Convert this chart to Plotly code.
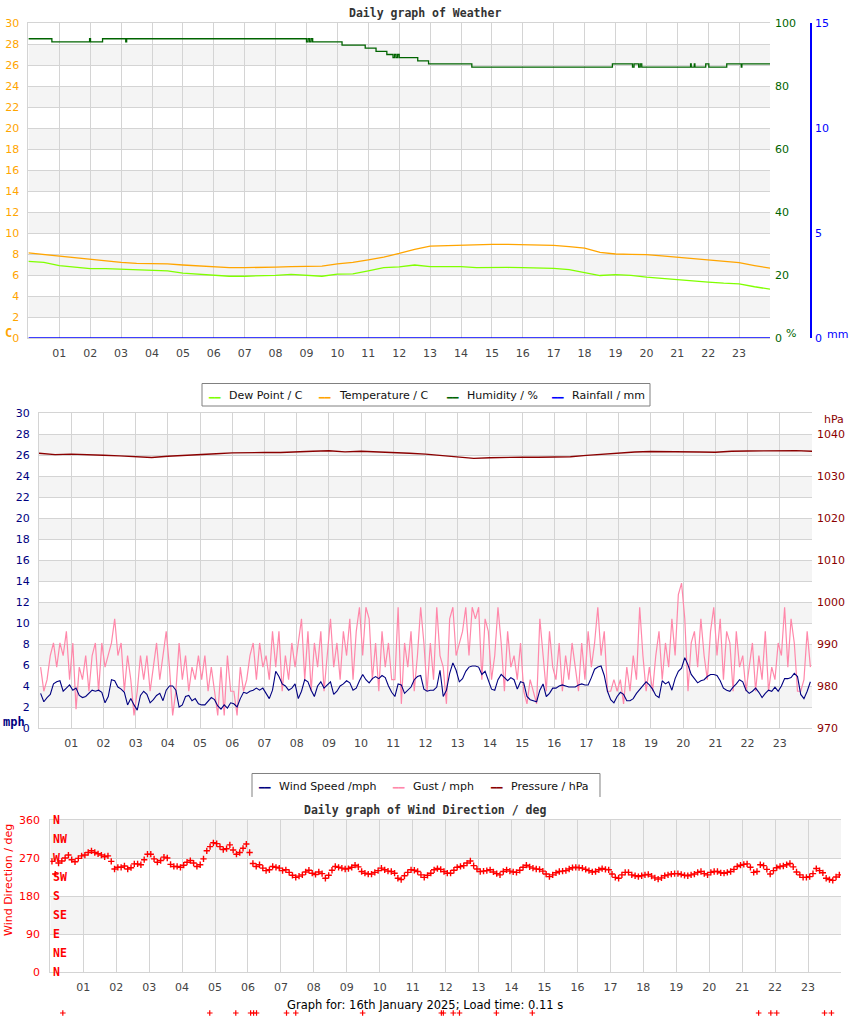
import plotly.graph_objects as go

W, H = 850, 1017
FONT = "DejaVu Sans"
MONO = "DejaVu Sans Mono"

# ---- panel 1: weather (half-hourly readings, hours after midnight) ----
HALF_HOURS = [i * 0.5 for i in range(49)]
TEMPERATURE = [8.1, 7.95, 7.75, 7.6, 7.45, 7.3, 7.2, 7.1, 7.1, 7.05,
               6.95, 6.85, 6.75, 6.7, 6.7, 6.7, 6.75, 6.8, 6.8, 6.85,
               7.05, 7.2, 7.45, 7.7, 8.05, 8.45, 8.75, 8.8, 8.85, 8.88,
               8.92, 8.92, 8.9, 8.85, 8.83, 8.7, 8.55, 8.15, 8.0, 7.97,
               7.94, 7.83, 7.7, 7.6, 7.47, 7.3, 7.18, 6.9, 6.65]
DEW_POINT = [7.3, 7.2, 6.9, 6.75, 6.6, 6.6, 6.55, 6.48, 6.45, 6.4,
             6.18, 6.08, 5.97, 5.88, 5.88, 5.9, 5.97, 6.05, 6.0, 5.88,
             6.08, 6.1, 6.4, 6.7, 6.78, 6.95, 6.8, 6.83, 6.8, 6.7,
             6.73, 6.72, 6.7, 6.68, 6.63, 6.52, 6.2, 5.95, 6.03, 5.97,
             5.8, 5.7, 5.53, 5.49, 5.33, 5.22, 5.15, 4.88, 4.65]
HUMIDITY_TIMES = [0.0, 0.76, 1.98, 2.01, 2.4, 3.15, 3.18, 9.0, 9.05, 9.1,
                  9.15, 9.2, 10.15, 10.9, 11.25, 11.6, 11.8, 11.85, 11.9, 11.95,
                  12.0, 12.6, 12.95, 14.35, 18.9, 19.55, 19.6, 19.75, 19.8, 19.85,
                  21.43, 21.45, 21.55, 21.57, 21.92, 22.02, 22.6, 23.07, 23.09, 24.0]
HUMIDITY = [95, 94, 95, 94, 95, 94, 95, 94, 95, 94,
            95, 94, 93, 92, 91, 90, 89, 90, 89, 90,
            89, 88, 87, 86, 87, 86, 87, 86, 87, 86,
            87, 86, 87, 86, 87, 86, 87, 86, 87, 87]
RAIN_TIMES = [0.0, 24.0]
RAINFALL = [0.0, 0.0]

# ---- panel 2: wind and pressure ----
PRESSURE = [1035.4, 1035.1, 1035.2, 1035.15, 1034.95, 1034.8, 1034.6, 1034.4, 1034.7, 1034.95,
            1035.1, 1035.3, 1035.5, 1035.6, 1035.6, 1035.6, 1035.8, 1035.9, 1036.0, 1035.75,
            1035.9, 1035.75, 1035.7, 1035.4, 1035.2, 1034.85, 1034.55, 1034.2, 1034.35, 1034.5,
            1034.5, 1034.45, 1034.45, 1034.6, 1034.9, 1035.2, 1035.45, 1035.7, 1035.85, 1035.85,
            1035.8, 1035.7, 1035.65, 1035.9, 1035.95, 1035.95, 1036.1, 1036.05, 1035.9]
SIX_MIN = [round(0.05 + 0.1 * i, 2) for i in range(240)]
WIND_SPEED = [
    3.3, 2.5, 2.9, 3.2, 4.2, 4.4, 4.5, 3.5, 3.8, 4.1, 3.6, 3.8, 3.1, 2.9, 3.0, 3.3, 3.6, 3.5, 3.6, 3.4,
    2.4, 3.0, 4.6, 4.5, 3.9, 3.7, 3.4, 2.2, 2.8, 2.2, 1.7, 3.1, 3.5, 3.2, 2.4, 2.7, 3.1, 3.3, 2.6, 3.6,
    4.0, 4.0, 3.6, 2.0, 2.2, 3.0, 3.1, 2.6, 2.8, 2.3, 2.2, 2.2, 2.6, 2.9, 2.7, 2.1, 1.8, 2.2, 1.9, 2.4,
    2.3, 2.0, 2.8, 3.4, 3.3, 3.5, 3.6, 3.8, 3.6, 3.8, 3.3, 2.8, 3.6, 5.4, 4.9, 4.2, 4.0, 3.6, 3.8, 4.2,
    2.8, 3.5, 4.6, 4.4, 3.6, 3.0, 4.0, 4.4, 3.8, 4.1, 4.4, 3.2, 3.5, 4.0, 4.2, 4.5, 4.3, 3.6, 3.8, 4.5,
    5.1, 4.6, 4.3, 4.7, 4.9, 4.7, 5.0, 4.8, 4.0, 3.4, 3.0, 4.2, 4.1, 3.3, 3.6, 3.9, 4.6, 4.9, 5.0, 3.7,
    3.5, 3.6, 3.6, 3.9, 5.5, 3.0, 3.6, 5.2, 6.2, 5.5, 4.4, 4.7, 5.4, 5.8, 5.9, 5.9, 5.8, 5.1, 5.4, 4.6,
    3.7, 3.6, 4.6, 5.1, 4.8, 4.5, 4.8, 4.6, 3.7, 4.4, 4.3, 3.0, 2.7, 2.6, 2.5, 3.6, 4.2, 3.0, 3.3, 3.8,
    3.8, 4.0, 4.1, 4.0, 3.9, 3.9, 3.9, 4.1, 4.2, 4.1, 4.1, 4.8, 5.6, 5.8, 5.9, 5.0, 3.5, 2.7, 2.4, 3.0,
    3.4, 3.2, 2.6, 2.6, 2.8, 3.3, 3.7, 4.1, 4.4, 4.1, 3.7, 3.1, 2.9, 4.5, 4.2, 4.4, 3.6, 4.7, 5.4, 5.7,
    6.7, 6.0, 5.1, 4.7, 4.3, 4.5, 4.6, 4.9, 5.1, 5.1, 5.0, 4.5, 3.8, 3.6, 3.5, 3.9, 4.2, 4.6, 4.4, 3.6,
    3.3, 3.5, 3.8, 3.4, 2.9, 3.3, 3.6, 3.5, 3.9, 3.5, 4.0, 4.7, 4.7, 4.8, 5.2, 4.9, 3.2, 2.8, 3.5, 4.4]
GUST = [
    5.8, 3.5, 4.6, 6.9, 8.1, 5.8, 8.1, 6.9, 9.2, 4.6,
    8.1, 1.8, 5.8, 4.6, 6.9, 3.5, 6.9, 8.1, 3.5, 8.1,
    5.8, 6.9, 8.1, 10.4, 6.9, 8.1, 3.5, 6.9, 4.6, 1.2,
    3.5, 6.9, 4.6, 6.9, 3.5, 5.8, 8.1, 4.6, 6.9, 9.2,
    5.8, 1.2, 3.5, 8.1, 4.6, 6.9, 3.5, 5.8, 4.6, 6.9,
    4.6, 6.9, 3.5, 5.8, 3.5, 1.2, 5.8, 1.2, 6.9, 3.5,
    3.5, 1.2, 5.8, 3.5, 4.6, 6.9, 8.1, 4.6, 8.1, 5.8,
    6.9, 4.6, 9.2, 5.8, 9.2, 3.5, 6.9, 4.6, 8.1, 5.8,
    8.1, 10.4, 4.6, 9.2, 3.5, 8.1, 5.8, 9.2, 3.5, 6.9,
    10.4, 5.8, 8.1, 4.6, 9.2, 6.9, 10.4, 4.6, 9.2, 11.5,
    6.9, 11.5, 10.4, 4.6, 8.1, 3.5, 9.2, 5.8, 8.1, 4.6,
    4.6, 11.5, 2.3, 8.1, 5.8, 9.2, 3.5, 6.9, 11.5, 8.1,
    3.5, 8.1, 4.6, 11.5, 6.9, 5.8, 2.3, 10.4, 11.5, 6.9,
    8.1, 9.2, 11.5, 6.9, 11.5, 10.4, 11.5, 4.6, 10.4, 9.2,
    4.6, 6.9, 11.5, 8.1, 3.5, 9.2, 5.8, 6.9, 4.6, 8.1,
    3.5, 2.3, 4.6, 3.5, 2.3, 10.4, 6.9, 3.5, 9.2, 5.8,
    4.6, 8.1, 3.5, 6.9, 4.6, 8.1, 5.8, 3.5, 8.1, 4.6,
    9.2, 5.8, 8.1, 11.5, 6.9, 9.2, 3.5, 3.5, 4.6, 3.5,
    4.6, 2.3, 5.8, 3.5, 6.9, 4.6, 11.5, 6.9, 3.5, 5.8,
    3.5, 6.9, 9.2, 4.6, 8.1, 5.8, 10.4, 6.9, 12.7, 13.8,
    10.4, 3.5, 8.1, 9.2, 5.8, 10.4, 6.9, 4.6, 9.2, 11.5,
    6.9, 10.4, 4.6, 9.2, 8.1, 3.5, 9.2, 5.8, 6.9, 3.5,
    5.8, 8.1, 3.5, 6.9, 4.6, 9.2, 3.5, 5.8, 4.6, 8.1,
    6.9, 11.5, 5.8, 10.4, 8.1, 3.5, 3.5, 4.6, 9.2, 5.8]

# ---- panel 3: wind direction ----
WIND_DIR = [
    262, 232, 258, 263, 270, 277, 266, 261, 269, 275, 277, 283, 287, 283, 280, 277, 273, 275, 262, 244,
    248, 248, 251, 244, 247, 256, 256, 254, 266, 279, 279, 268, 260, 264, 272, 270, 255, 250, 250, 248,
    253, 260, 264, 258, 250, 254, 268, 287, 297, 306, 304, 297, 290, 292, 301, 289, 279, 283, 293, 303,
    283, 257, 250, 254, 246, 240, 242, 250, 248, 246, 240, 242, 236, 229, 224, 227, 230, 237, 241, 234,
    231, 237, 233, 222, 229, 241, 250, 248, 246, 244, 245, 248, 253, 249, 238, 234, 232, 232, 236, 240,
    246, 242, 239, 238, 234, 222, 219, 228, 236, 242, 241, 238, 230, 224, 229, 234, 242, 245, 243, 238,
    234, 234, 241, 248, 250, 252, 258, 263, 252, 244, 238, 239, 240, 242, 237, 233, 230, 238, 242, 239,
    237, 236, 241, 248, 253, 249, 246, 244, 243, 239, 232, 226, 230, 235, 238, 239, 240, 244, 247, 248,
    247, 246, 243, 240, 237, 238, 242, 245, 243, 242, 232, 224, 222, 230, 236, 236, 230, 228, 226, 228,
    230, 231, 227, 223, 220, 223, 228, 230, 232, 233, 233, 231, 229, 228, 230, 232, 236, 238, 233, 230,
    236, 238, 238, 235, 234, 236, 238, 243, 250, 253, 255, 256, 248, 236, 238, 254, 252, 243, 232, 240,
    247, 250, 251, 254, 257, 249, 237, 230, 224, 224, 226, 233, 245, 240, 235, 222, 219, 217, 225, 230]
# readings that fall off the bottom of the direction chart
CALM_TIMES = [0.38, 4.84, 5.63, 6.08, 6.17, 6.26, 7.17, 7.45, 9.48, 11.87,
              11.93, 12.23, 12.42, 13.54, 14.63, 21.5, 21.87, 22.05, 23.5, 23.71]
CALM_DIR = [-97, -97, -97, -97, -97, -97, -97, -97, -97, -97,
            -97, -97, -97, -97, -97, -97, -97, -97, -97, -97]

HOUR_TICKS = list(range(1, 24))
HOUR_LABELS = ["%02d" % h for h in HOUR_TICKS]
COMPASS = ["N", "NE", "E", "SE", "S", "SW", "W", "NW", "N"]
COMPASS_DEG = [0, 45, 90, 135, 180, 225, 270, 315, 360]

ORANGE, LIME, DKGREEN, BLUE = "#ffa500", "#80ff00", "#006400", "#0000ff"
NAVY, PINK, DKRED, RED = "#000080", "#ff88aa", "#8b0000", "#ff0000"
GRID, BAND = "#d4d4d4", "#f4f4f4"


def px(x):
    return x / W


def py(y):
    return 1 - y / H


def hour_axis(left, right, anchor):
    return dict(domain=[px(left), px(right)], anchor=anchor, range=[0, 24], automargin=False,
                tickvals=HOUR_TICKS, ticktext=HOUR_LABELS, ticks="",
                showgrid=True, gridcolor=GRID, showline=True, linecolor=GRID, mirror=True,
                zeroline=False, ticklabelstandoff=5,
                tickfont=dict(family=FONT, size=11, color="#444444"))


def value_axis(color, **kw):
    ax = dict(ticks="", zeroline=False, automargin=False,
              tickfont=dict(family=FONT, size=11, color=color))
    ax.update(kw)
    return ax


def text(t, x, y, color, size=11, family=FONT, xanchor="left", yanchor="middle", **kw):
    return dict(text=t, x=px(x), y=py(y), xref="paper", yref="paper", showarrow=False,
                xanchor=xanchor, yanchor=yanchor,
                font=dict(family=family, size=size, color=color), **kw)


fig = go.Figure()

# panel 1
fig.add_trace(go.Scatter(x=HALF_HOURS, y=DEW_POINT, mode="lines", line=dict(color=LIME, width=1.3),
                         xaxis="x", yaxis="y"))
fig.add_trace(go.Scatter(x=HALF_HOURS, y=TEMPERATURE, mode="lines", line=dict(color=ORANGE, width=1.3),
                         xaxis="x", yaxis="y"))
fig.add_trace(go.Scatter(x=HUMIDITY_TIMES, y=HUMIDITY, mode="lines", line=dict(color=DKGREEN, width=1.3, shape="hv"),
                         xaxis="x", yaxis="y2"))
fig.add_trace(go.Scatter(x=RAIN_TIMES, y=RAINFALL, mode="lines", line=dict(color=BLUE, width=1.6),
                         xaxis="x", yaxis="y3", cliponaxis=False))

# panel 2
fig.add_trace(go.Scatter(x=SIX_MIN, y=GUST, mode="lines", line=dict(color=PINK, width=1.2),
                         xaxis="x2", yaxis="y4"))
fig.add_trace(go.Scatter(x=SIX_MIN, y=WIND_SPEED, mode="lines", line=dict(color=NAVY, width=1.1),
                         xaxis="x2", yaxis="y4"))
fig.add_trace(go.Scatter(x=HALF_HOURS, y=PRESSURE, mode="lines", line=dict(color=DKRED, width=1.4),
                         xaxis="x2", yaxis="y5"))

# panel 3
fig.add_trace(go.Scatter(x=SIX_MIN, y=WIND_DIR, mode="markers",
                         marker=dict(symbol="cross-thin", size=4.5, line=dict(color=RED, width=1.4)),
                         xaxis="x3", yaxis="y6"))
fig.add_trace(go.Scatter(x=CALM_TIMES, y=CALM_DIR, mode="markers",
                         marker=dict(symbol="cross-thin", size=4, line=dict(color=RED, width=1.2)),
                         xaxis="x4", yaxis="y7"))

shapes = []
for lo in range(2, 30, 4):
    for xr, yr in (("x", "y"), ("x2", "y4")):
        shapes.append(dict(type="rect", xref=xr, yref=yr, x0=0, x1=24, y0=lo, y1=lo + 2,
                           fillcolor=BAND, line=dict(width=0), layer="below"))
for lo in (90, 270):
    shapes.append(dict(type="rect", xref="x3", yref="y6", x0=0, x1=24, y0=lo, y1=lo + 90,
                       fillcolor=BAND, line=dict(width=0), layer="below"))
# legend frames (the lower edge of the second one is hidden under the wind direction chart)
shapes.append(dict(type="rect", xref="paper", yref="paper",
                   x0=px(202), x1=px(650), y0=py(406), y1=py(383.5),
                   line=dict(color="#808080", width=1), fillcolor="white"))
shapes.append(dict(type="path", xref="paper", yref="paper",
                   path="M %f,%f L %f,%f L %f,%f L %f,%f" % (px(252), py(797), px(252), py(773.5),
                                                             px(600), py(773.5), px(600), py(797)),
                   line=dict(color="#808080", width=1)))

annotations = [
    text("<b>Daily graph of Weather</b>", 425, 13, "#333333", 11.5, MONO, "center"),
    text("<b>C</b>", 3, 333, ORANGE, 12, MONO),
    text("%", 784, 333, DKGREEN, 11),
    text("mm", 825, 334, BLUE, 11),
    text("<b>mph</b>", 1, 722, NAVY, 12, MONO),
    text("hPa", 822, 419, DKRED, 11),
    text("<b>Daily graph of Wind Direction / deg</b>", 425, 810, "#333333", 11.5, MONO, "center"),
    text("Wind Direction / deg", 8, 880, RED, 11, FONT, "center", textangle=-90),
    text("Graph for: 16th January 2025; Load time: 0.11 s", 425, 1005, "#000000", 11.5, FONT, "center"),
]

legend1 = [("Dew Point / C", LIME, 207), ("Temperature / C", ORANGE, 317),
           ("Humidity / %", DKGREEN, 445), ("Rainfall / mm", BLUE, 550)]
legend2 = [("Wind Speed /mph", NAVY, 257), ("Gust / mph", PINK, 391), ("Pressure / hPa", DKRED, 489)]
for items, ymid in ((legend1, 396), (legend2, 786)):
    for name, color, x0 in items:
        annotations.append(text("━━", x0 - 1, ymid + 1, color, 9.5, FONT))
        annotations.append(text(name, x0 + 20, ymid, "#111111", 11, FONT))

for name, deg in zip(COMPASS, COMPASS_DEG):
    annotations.append(dict(text="<b>%s</b>" % name, x=px(51), y=deg, xref="paper", yref="y6",
                            showarrow=False, xanchor="left", yanchor="middle",
                            font=dict(family=MONO, size=11.5, color=RED)))

fig.update_layout(
    width=W, height=H, margin=dict(l=0, r=0, t=0, b=0, pad=0, autoexpand=False),
    paper_bgcolor="white", plot_bgcolor="white", showlegend=False,
    xaxis=hour_axis(28.4, 770, "y"),
    yaxis=value_axis(ORANGE, domain=[py(338), py(23)], anchor="x", range=[0, 30], dtick=2,
                     showgrid=True, gridcolor=GRID, showline=True, linecolor=GRID, ticklabelstandoff=6),
    yaxis2=value_axis(DKGREEN, overlaying="y", side="right", anchor="x", range=[0, 100],
                      tickvals=[0, 20, 40, 60, 80, 100], showgrid=False, ticklabelstandoff=4),
    yaxis3=value_axis(BLUE, overlaying="y", side="right", anchor="free", position=px(811),
                      range=[0, 15], tickvals=[0, 5, 10, 15], showgrid=False,
                      showline=True, linecolor=BLUE, linewidth=1.5, ticklabelstandoff=1),
    xaxis2=hour_axis(39, 812, "y4"),
    yaxis4=value_axis(NAVY, domain=[py(728), py(413)], anchor="x2", range=[0, 30], dtick=2,
                      showgrid=True, gridcolor=GRID, showline=True, linecolor=GRID, ticklabelstandoff=6),
    yaxis5=value_axis(DKRED, overlaying="y4", side="right", anchor="x2", range=[970, 1045],
                      tickvals=[970, 980, 990, 1000, 1010, 1020, 1030, 1040], showgrid=False,
                      ticklabelstandoff=4),
    xaxis3=hour_axis(50.3, 841, "y6"),
    yaxis6=value_axis(RED, domain=[py(972), py(820)], anchor="x3", range=[0, 360], dtick=90,
                      showgrid=True, gridcolor=GRID, showline=True, linecolor=GRID, ticklabelstandoff=7),
    # strip under the footer where the off-scale direction readings land
    xaxis4=dict(domain=[px(50.3), px(841)], anchor="y7", range=[0, 24], visible=False, automargin=False),
    yaxis7=dict(domain=[py(1016), py(1010)], anchor="x4", range=[-100, -94], visible=False, automargin=False),
    shapes=shapes,
    annotations=annotations,
)

fig.write_html("out.html", config={"displayModeBar": False},
               post_script="document.body.style.margin='0px';")
